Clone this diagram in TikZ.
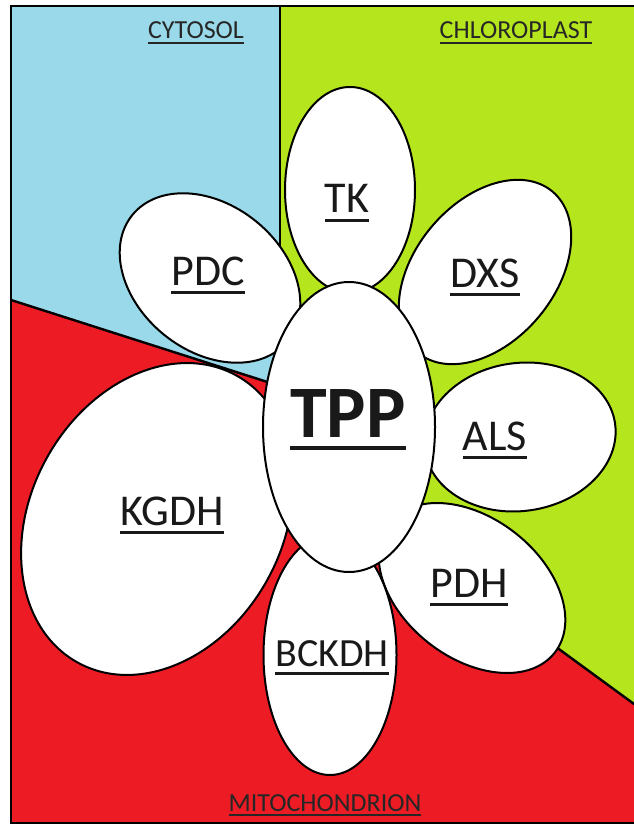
\documentclass[tikz,border=0pt]{standalone}
\usepackage{fontspec}
\setmainfont{Carlito}
\usetikzlibrary{shapes.geometric}

\definecolor{cytoblue}{HTML}{99D9EA}
\definecolor{chlorogreen}{HTML}{B5E61D}
\definecolor{mitored}{HTML}{ED1C24}

% underlined label: text, gap, rule thickness
\newcommand{\ulabel}[3]{\setbox0=\hbox{#1}\vtop{\copy0\kern#2\hrule height #3}}

\tikzset{
	petal/.style={ellipse, draw=black, line width=2pt, fill=white, inner sep=0pt},
	enzyme/.style={anchor=base, inner sep=0pt, text=black!90, font=\fontsize{44}{44}\selectfont},
	place/.style={anchor=base, inner sep=0pt, text=black!85, font=\fontsize{26}{26}\selectfont},
	divider/.style={line width=2.4pt}
}

\begin{document}
\begin{tikzpicture}[x=1pt, y=-1pt]
	\useasboundingbox (0,0) rectangle (633,826);
	
	% Compartments
	\fill[mitored] (11,6) rectangle (645,823);
	\fill[cytoblue] (11,6) -- (280,6) -- (280,386) -- (11,300) -- cycle;
	\fill[chlorogreen] (280,6) -- (645,6) -- (645,712) -- (340,489) -- (280,386) -- cycle;
	
	% Lines
	\draw[divider] (280,6) -- (280,386);
	\draw[divider] (11,300) -- (280,386);
	\draw[divider] (340,489) -- (645,712);
	\draw[line width=2.6pt] (645,6) -- (11,6) -- (11,823) -- (645,823);
	
	% Petals
	\foreach \name/\pos/\pw/\ph/\pa in {pdc/{(210,278)}/200/146/-39, tk/{(350,190)}/130/206/0,
		dxs/{(485,272)}/210/140/50, als/{(520,437)}/192/148/8, pdh/{(472,588)}/210/140/-38,
		bckdh/{(330,655)}/133/240/0, kgdh/{(157,519)}/328/252/61} {
		\node[petal, minimum width=\pw pt, minimum height=\ph pt, rotate=\pa] (\name) at \pos {};
	}
	\node[petal, minimum width=172pt, minimum height=290pt] (tpp) at (349,427) {};
	
	% Enzymes
	\node[enzyme] (lbltk) at (347,213) {\ulabel{TK}{6pt}{3pt}};
	\node[enzyme] (lblpdc) at (208,285) {\ulabel{PDC}{6pt}{3pt}};
	\node[enzyme] (lbldxs) at (485,287) {\ulabel{DXS}{6pt}{3pt}};
	\node[enzyme] (lblals) at (495,450) {\ulabel{ALS}{6pt}{3pt}};
	\node[enzyme] (lblkgdh) at (172,525) {\ulabel{KGDH}{6pt}{3pt}};
	\node[enzyme] (lblpdh) at (469,597) {\ulabel{PDH}{6pt}{3pt}};
	\node[enzyme, font=\fontsize{40}{40}\selectfont] (lblbckdh) at (332,666) {\ulabel{BCKDH}{6pt}{3pt}};
	\node[enzyme, font=\fontsize{74}{74}\selectfont\bfseries] (lbltpp) at (348,437) {\ulabel{TPP}{9pt}{4pt}};
	
	% Label
	\node[place] (cytosol) at (196,39) {\ulabel{CYTOSOL}{3pt}{1.8pt}};
	\node[place] (chloroplast) at (516,39) {\ulabel{CHLOROPLAST}{3pt}{1.8pt}};
	\node[place] (mito) at (325,811) {\ulabel{MITOCHONDRION}{3pt}{1.8pt}};
\end{tikzpicture}
\end{document}
